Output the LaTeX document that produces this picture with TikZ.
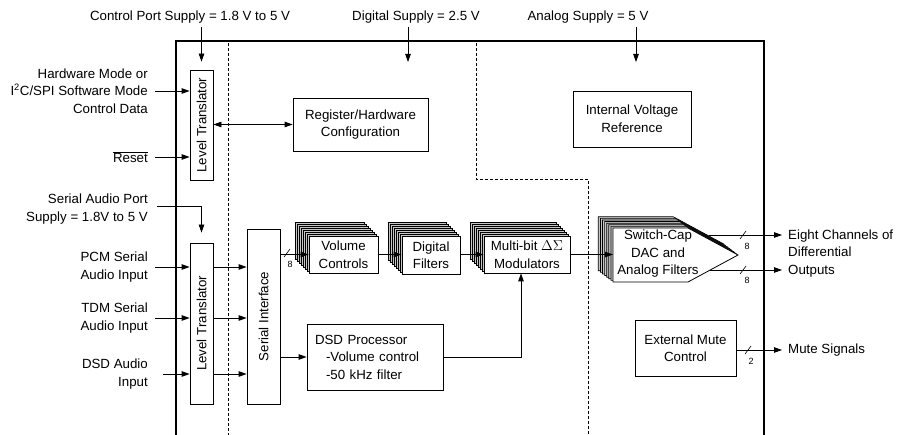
\documentclass[tikz,border=0pt]{standalone}
\usepackage{fontspec}
\setmainfont{Liberation Sans}
\usetikzlibrary{arrows.meta}

\begin{document}
\begin{tikzpicture}[x=1pt, y=-1pt,
		font=\fontsize{13.3}{17.5}\selectfont,
		box/.style={draw, line width=0.8pt, fill=white, align=center, inner sep=0pt},
		layer/.style={draw, line width=0.7pt, fill=gray!45},
		lbl/.style={align=right, inner sep=0pt, anchor=east},
		olbl/.style={align=left, inner sep=0pt, anchor=west},
		arr/.style={line width=0.8pt, >={Triangle[length=8pt,width=5.5pt]}},
		bus/.style={font=\fontsize{9}{10}\selectfont, inner sep=0pt},
		sep/.style={line width=0.6pt, dash pattern=on 3pt off 2pt}]
	\useasboundingbox (0,0) rectangle (907,435);
	
	%Chip outline
	\draw[line width=1.8pt] (176,435) -- (176,41) -- (764,41) -- (764,435);
	\draw[sep] (228,43) -- (228,435);
	\draw[sep] (476,43) -- (476,179) -- (588,179) -- (588,435);
	
	%Supplies
	\node (cps) at (190,17) {Control Port Supply = 1.8 V to 5 V};
	\node (dsup) at (416,17) {Digital Supply = 2.5 V};
	\node (asup) at (588,17) {Analog Supply = 5 V};
	\coordinate (dsin) at (408,62);
	\coordinate (asin) at (636,62);
	\draw[arr,->] (dsup.south -| dsin) -- (dsin);
	\draw[arr,->] (asup.south -| asin) -- (asin);
	
	%Control Port Level Translator
	\node[box, minimum width=23, minimum height=110] (lt1) at (201.5,125) {\rotatebox{90}{Level Translator}};
	\draw[arr,->, shorten >=8pt] (cps.south -| lt1.north) -- (lt1.north);
	\node[lbl] (hw) at (148,91) {Hardware Mode or\\I\textsuperscript{2}C/SPI Software Mode\\Control Data};
	\node[lbl] (rst) at (148,157) {$\overline{\mbox{Reset}}$};
	\draw[arr,->] ([xshift=7pt]hw.east) -- (hw.east -| lt1.west);
	\draw[arr,->] ([xshift=7pt]rst.east) -- (rst.east -| lt1.west);
	
	%Register/Hardware Configuration
	\node[box, minimum width=135, minimum height=53] (reg) at (360.5,124.5) {Register/Hardware\\Configuration};
	\draw[arr,<->] (lt1.east |- reg.west) -- (reg.west);
	
	%Internal Voltage Reference
	\node[box, minimum width=118, minimum height=56] (ivr) at (632,119) {Internal Voltage\\Reference};
	
	%Serial Audio Level Translator
	\node[lbl] (sap) at (148,209) {Serial Audio Port\\Supply = 1.8V to 5 V};
	\node[box, minimum width=23, minimum height=161] (lt2) at (201.5,323.5) {\rotatebox{90}{Level Translator}};
	\draw[arr,->, shorten >=10pt] ([xshift=9pt,yshift=3pt]sap.east) -| (lt2.north);
	\node[lbl] (pcm) at (148,267) {PCM Serial\\Audio Input};
	\node[lbl] (tdm) at (148,318) {TDM Serial\\Audio Input};
	\node[lbl] (dsdin) at (148,374) {DSD Audio\\Input};
	\draw[arr,->] ([xshift=7pt]pcm.east) -- (pcm.east -| lt2.west);
	\draw[arr,->] ([xshift=7pt]tdm.east) -- (tdm.east -| lt2.west);
	\draw[arr,->] ([xshift=15pt]dsdin.east) -- (dsdin.east -| lt2.west);
	
	%Serial Interface
	\node[box, minimum width=33, minimum height=175] (si) at (263.5,316.5) {\rotatebox{90}{Serial Interface}};
	\draw[arr,->] (lt2.east |- pcm.east) -- (si.west |- pcm.east);
	\draw[arr,->] (lt2.east |- tdm.east) -- (si.west |- tdm.east);
	\draw[arr,->] (lt2.east |- dsdin.east) -- (si.west |- dsdin.east);
	
	%Volume Controls
	\foreach \i in {7,...,1}
		\draw[layer] (309-2*\i,236-2*\i) rectangle (378-2*\i,273-2*\i);
	\node[box, minimum width=69, minimum height=37] (vc) at (343.5,254.5) {Volume\\Controls};
	\draw[arr,->] (si.east |- vc.west) -- (vc.west);
	\draw[line width=0.6pt] (284,257) -- (290,249);
	\node[bus] (b1) at (290,264) {8};
	
	%Digital Filters
	\foreach \i in {7,...,1}
		\draw[layer] (402-2*\i,236-2*\i) rectangle (460-2*\i,274-2*\i);
	\node[box, minimum width=58, minimum height=38] (df) at (431,255) {Digital\\Filters};
	\draw[arr,->] (vc.east) -- (vc.east -| df.west);
	
	%Multi-bit Modulators
	\foreach \i in {7,...,1}
		\draw[layer] (484-2*\i,236-2*\i) rectangle (570-2*\i,273-2*\i);
	\node[box, minimum width=86, minimum height=37] (mod) at (527,254.5) {Multi-bit $\Delta\Sigma$\\Modulators};
	\draw[arr,->] (df.east |- mod.west) -- (mod.west);
	
	%Switch-Cap DAC
	\foreach \i in {7,...,1}
		\draw[layer] (613-2.1*\i,228-1.6*\i) -- (688-2.1*\i,228-1.6*\i) -- (738-2.1*\i,255-1.6*\i)
			-- (688-2.1*\i,282-1.6*\i) -- (613-2.1*\i,282-1.6*\i) -- cycle;
	\draw[line width=0.8pt, fill=white] (613,228) -- (688,228) -- (738,255) -- (688,282) -- (613,282) -- cycle;
	\node[align=center, inner sep=0pt] (dac) at (658,254) {Switch-Cap\\DAC and\\Analog Filters};
	\coordinate (dacin) at (613,254);
	\draw[arr,->] (mod.east) -- (mod.east -| dacin);
	
	%Outputs
	\node[olbl] (outs) at (788,253.5) {Eight Channels of\\Differential\\Outputs};
	\coordinate (dtop) at (709,235);
	\coordinate (dbot) at (710,270);
	\draw[arr,->, shorten >=6pt] (dtop) -- (dtop -| outs.west);
	\draw[arr,->, shorten >=6pt] (dbot) -- (dbot -| outs.west);
	\draw[line width=0.6pt] (740,239) -- (746,231);
	\draw[line width=0.6pt] (740,274) -- (746,266);
	\node[bus] (b2) at (747,246) {8};
	\node[bus] (b3) at (747,280) {8};
	
	%DSD Processor
	\node[box, minimum height=66, text width=120, inner xsep=8pt, align=left] (dsd) at (375,357) {DSD Processor\\\hspace*{11pt}-Volume control\\\hspace*{11pt}-50 kHz filter};
	\draw[arr,->] (si.east |- dsd.west) -- (dsd.west);
	\draw[arr,->] (dsd.east) -| ([xshift=-6pt]mod.south);
	
	%External Mute Control
	\node[box, minimum width=101, minimum height=56] (emc) at (685.5,348) {External Mute\\Control};
	\node[olbl] (mute) at (788,350) {Mute Signals};
	\draw[arr,->, shorten >=6pt] (emc.east |- mute.west) -- (mute.west);
	\draw[line width=0.6pt] (745,354) -- (751,346);
	\node[bus] (b4) at (751,361) {2};
\end{tikzpicture}
\end{document}
